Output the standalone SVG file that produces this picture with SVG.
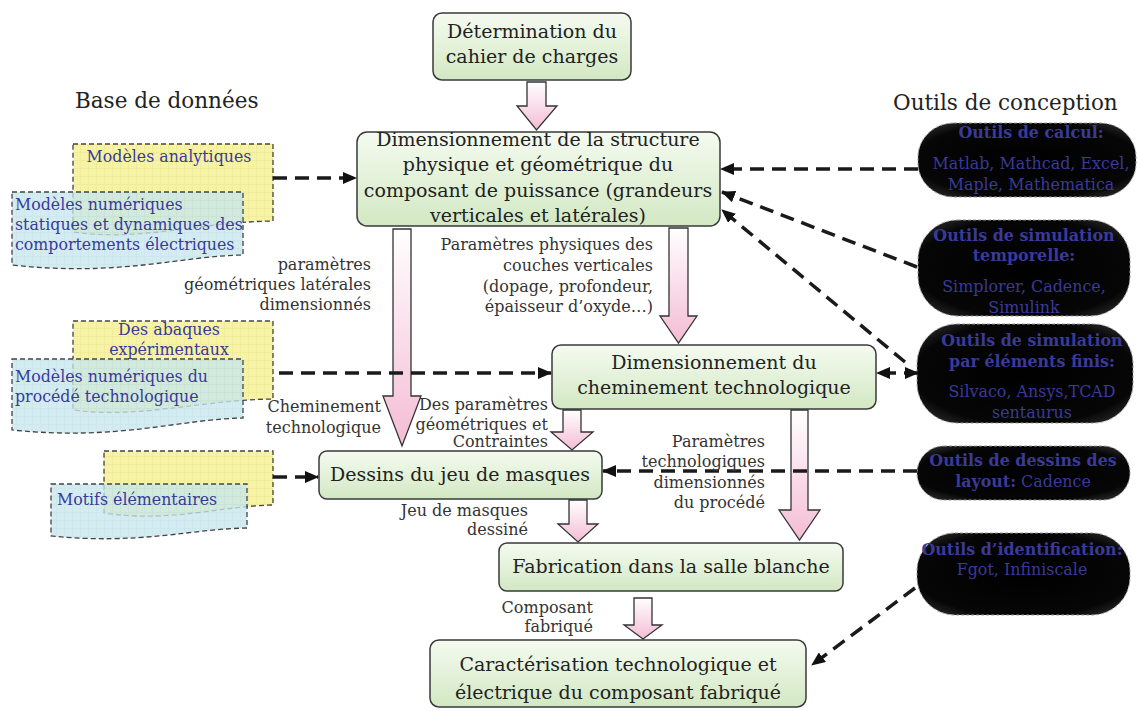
<svg xmlns="http://www.w3.org/2000/svg" width="1141" height="711" viewBox="0 0 1141 711">
<defs>
<linearGradient id="gBox" x1="0" y1="0" x2="0" y2="1"><stop offset="0" stop-color="#f5fbf0"/><stop offset="1" stop-color="#d2e8c3"/></linearGradient>
<linearGradient id="gArr" x1="0" y1="0" x2="0" y2="1"><stop offset="0" stop-color="#ffffff"/><stop offset="1" stop-color="#f4bcd4"/></linearGradient>
<radialGradient id="gTool" cx="0.5" cy="0.5" r="0.6"><stop offset="0" stop-color="#000"/><stop offset="0.85" stop-color="#060606"/><stop offset="1" stop-color="#1e1e1e"/></radialGradient>
<pattern id="pY" width="8" height="8" patternUnits="userSpaceOnUse"><rect width="8" height="8" fill="#f7f3a6"/><path d="M0 0.5H8M0.5 0V8" stroke="#f1ec9a" stroke-width="1"/></pattern>
<pattern id="pC" width="8" height="8" patternUnits="userSpaceOnUse"><rect width="8" height="8" fill="#c8e7ed"/><path d="M0 0.5H8M0.5 0V8" stroke="#bfe1e8" stroke-width="1"/></pattern>
<marker id="ah" markerUnits="userSpaceOnUse" markerWidth="14" markerHeight="12" refX="13" refY="6" orient="auto-start-reverse"><path d="M0,0 L14,6 L0,12 Z" fill="#111"/></marker>
<style>
.box{fill:url(#gBox);stroke:#3a3a3a;stroke-width:1.5}
.bt{font-family:"DejaVu Serif","Liberation Serif",serif;font-size:19px;fill:#222;text-anchor:middle}
.lbl{font-family:"DejaVu Serif","Liberation Serif",serif;font-size:16px;fill:#333;text-anchor:end}
.arr{fill:url(#gArr);stroke:#333;stroke-width:1.3;stroke-linejoin:miter}
.dash{fill:none;stroke:#1a1a1a;stroke-width:3.5;stroke-dasharray:14 8;marker-end:url(#ah)}
.ydoc{fill:url(#pY);stroke:#444;stroke-width:1.3;stroke-dasharray:5 3}
.cdoc{fill:url(#pC);fill-opacity:0.78;stroke:#444;stroke-width:1.3;stroke-dasharray:5 3}
.dbt{font-family:"DejaVu Serif","Liberation Serif",serif;font-size:15.8px;fill:#3a3a9a}
.tool{fill:url(#gTool);stroke:#9a9a9a;stroke-width:1;stroke-dasharray:3 2}
.tt{font-family:"DejaVu Serif","Liberation Serif",serif;font-size:15.9px;fill:#3a3a98;text-anchor:middle}
.tb{font-weight:bold}
.head{font-family:"DejaVu Serif","Liberation Serif",serif;font-size:21.5px;fill:#222}
</style>
</defs>
<rect width="1141" height="711" fill="#fff"/>

<text class="head" x="75" y="108">Base de données</text>
<text class="head" x="893" y="110">Outils de conception</text>

<!-- database documents -->
<g id="db1">
<path class="ydoc" d="M73,144 H273 V221 C200,222 140,242 73,232 Z"/>
<text class="dbt" x="169" y="162" text-anchor="middle">Modèles analytiques</text>
<path class="cdoc" d="M12,192 H243 V255 C180,256 120,277 12,265 Z"/>
<text class="dbt" x="15" y="210">Modèles numériques</text>
<text class="dbt" x="15" y="230">statiques et dynamiques des</text>
<text class="dbt" x="15" y="250">comportements électriques</text>
</g>
<g id="db2">
<path class="ydoc" d="M73,321 H273 V399 C200,400 140,419 73,410 Z"/>
<text class="dbt" x="169" y="335" text-anchor="middle">Des abaques</text>
<text class="dbt" x="169" y="355" text-anchor="middle">expérimentaux</text>
<path class="cdoc" d="M12,359 H243 V418 C180,419 120,441 12,430 Z"/>
<text class="dbt" x="15" y="382">Modèles numériques du</text>
<text class="dbt" x="15" y="402">procédé technologique</text>
</g>
<g id="db3">
<path class="ydoc" d="M104,451 H273 V505 C220,506 170,523 104,513 Z"/>
<path class="cdoc" d="M51,484 H247 V528 C190,529 140,545 51,536 Z"/>
<text class="dbt" x="57" y="505">Motifs élémentaires</text>
</g>

<!-- tools -->
<g id="t1">
<rect class="tool" x="918" y="123" width="218" height="74" rx="36" ry="34"/>
<text class="tt tb" x="1031" y="138">Outils de calcul:</text>
<text class="tt" x="1031" y="169">Matlab, Mathcad, Excel,</text>
<text class="tt" x="1031" y="190">Maple, Mathematica</text>
</g>
<g id="t2">
<rect class="tool" x="918" y="220" width="212" height="96" rx="40" ry="40"/>
<text class="tt tb" x="1024" y="241">Outils de simulation</text>
<text class="tt tb" x="1024" y="261">temporelle:</text>
<text class="tt" x="1024" y="292">Simplorer, Cadence,</text>
<text class="tt" x="1024" y="313">Simulink</text>
</g>
<g id="t3">
<rect class="tool" x="917" y="324" width="216" height="99" rx="40" ry="40"/>
<text class="tt tb" x="1032" y="346">Outils de simulation</text>
<text class="tt tb" x="1032" y="367">par éléments finis:</text>
<text class="tt" x="1032" y="397">Silvaco, Ansys,TCAD</text>
<text class="tt" x="1032" y="418">sentaurus</text>
</g>
<g id="t4">
<rect class="tool" x="917" y="446" width="213" height="54" rx="27" ry="27"/>
<text class="tt tb" x="1023" y="466">Outils de dessins des</text>
<text class="tt" x="1023" y="487"><tspan class="tb">layout:</tspan> Cadence</text>
</g>
<g id="t5">
<rect class="tool" x="917" y="533" width="213" height="82" rx="38" ry="38"/>
<text class="tt tb" x="1022" y="555">Outils d’identification:</text>
<text class="tt" x="1022" y="575">Fgot, Infiniscale</text>
</g>

<!-- main process boxes -->
<g id="n1">
<rect class="box" x="433" y="13" width="198" height="67" rx="9"/>
<text class="bt" x="532" y="38">Détermination du</text>
<text class="bt" x="532" y="63">cahier de charges</text>
</g>
<g id="n2">
<rect class="box" x="357" y="132" width="363" height="94" rx="10"/>
<text class="bt" x="538" y="146">Dimensionnement de la structure</text>
<text class="bt" x="538" y="171">physique et géométrique du</text>
<text class="bt" x="538" y="197">composant de puissance (grandeurs</text>
<text class="bt" x="538" y="222">verticales et latérales)</text>
</g>
<g id="n3">
<rect class="box" x="552" y="345" width="324" height="64" rx="9"/>
<text class="bt" x="714" y="369">Dimensionnement du</text>
<text class="bt" x="714" y="394">cheminement technologique</text>
</g>
<g id="n4">
<rect class="box" x="319" y="451" width="283" height="48" rx="8"/>
<text class="bt" x="460" y="481">Dessins du jeu de masques</text>
</g>
<g id="n5">
<rect class="box" x="499" y="543" width="344" height="48" rx="8"/>
<text class="bt" x="671" y="573">Fabrication dans la salle blanche</text>
</g>
<g id="n6">
<rect class="box" x="430" y="640" width="376" height="67" rx="9"/>
<text class="bt" x="618" y="671">Caractérisation technologique et</text>
<text class="bt" x="618" y="699">électrique du composant fabriqué</text>
</g>

<!-- connectors -->
<g id="connectors">
<path class="arr" d="M527,82 H546 V106 H557 L536.5,130 L517,106 H527 Z"/>
<path class="arr" d="M393,229 H411 V396 H421 L402,446 L383,396 H393 Z"/>
<path class="arr" d="M669,228 H688 V316 H697 L678.5,343 L660,316 H669 Z"/>
<path class="arr" d="M563,410 H581 V432 H593 L572,450 L551,432 H563 Z"/>
<path class="arr" d="M569,500 H587 V524 H598 L578,542 L558,524 H569 Z"/>
<path class="arr" d="M791,410 H808 V510 H820 L799.5,540 L779,510 H791 Z"/>
<path class="arr" d="M634,598 H652 V625 H662 L643,639 L624,625 H634 Z"/>

<path class="dash" d="M273,178 H356"/>
<path class="dash" d="M279,373 H551"/>
<path class="dash" d="M273,477 H318"/>
<path class="dash" d="M918,169 H721"/>
<path class="dash" d="M917,267 L722,192"/>
<path class="dash" d="M905,362 L722,210"/>
<path class="dash" d="M918,373 H877" style="marker-start:url(#ah)"/>
<path class="dash" d="M917,471 H603"/>
<path class="dash" d="M915,588 L812,665"/>
</g>

<!-- labels -->
<text class="lbl" x="371" y="270">paramètres</text>
<text class="lbl" x="371" y="290">géométriques latérales</text>
<text class="lbl" x="371" y="310">dimensionnés</text>
<text class="lbl" x="653" y="250">Paramètres physiques des</text>
<text class="lbl" x="653" y="271">couches verticales</text>
<text class="lbl" x="653" y="292">(dopage, profondeur,</text>
<text class="lbl" x="653" y="312">épaisseur d’oxyde…)</text>
<text class="lbl" x="381" y="412">Cheminement</text>
<text class="lbl" x="381" y="433">technologique</text>
<text class="lbl" x="548" y="410">Des paramètres</text>
<text class="lbl" x="548" y="430">géométriques et</text>
<text class="lbl" x="548" y="447">Contraintes</text>
<text class="lbl" x="765" y="447">Paramètres</text>
<text class="lbl" x="765" y="467">technologiques</text>
<text class="lbl" x="765" y="488">dimensionnés</text>
<text class="lbl" x="765" y="508">du procédé</text>
<text class="lbl" x="528" y="516">Jeu de masques</text>
<text class="lbl" x="528" y="535">dessiné</text>
<text class="lbl" x="593" y="613">Composant</text>
<text class="lbl" x="593" y="632">fabriqué</text>
</svg>
